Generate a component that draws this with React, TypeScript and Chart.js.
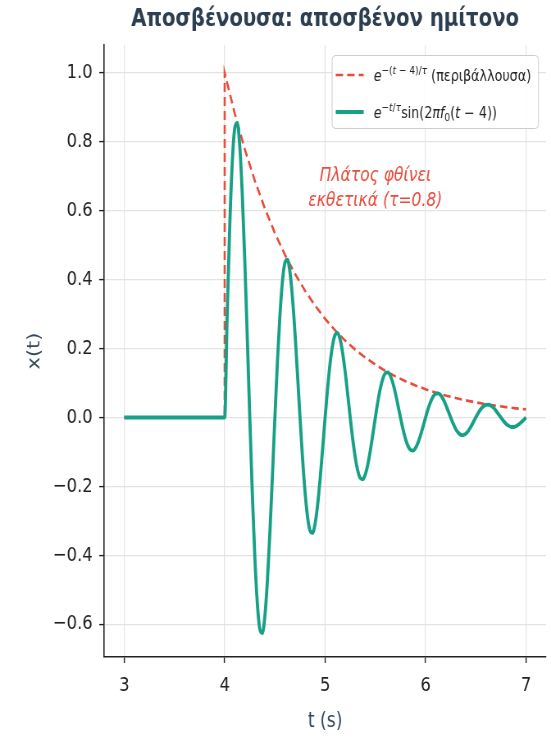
import React, { useEffect, useRef } from "react";
import { Chart, registerables } from "chart.js";

Chart.register(...registerables);

// ---------- text ----------
const chartTitle = "Αποσβένουσα: αποσβένον ημίτονο";
const xAxisLabel = "t (s)";
const yAxisLabel = "x(t)";
const annotationLines = ["Πλάτος φθίνει", "εκθετικά (τ=0.8)"];
const annotationX = 5.5;
const annotationY = 0.663;

// ---------- ticks ----------
const xTicks = [3, 4, 5, 6, 7];
const yTicks = [-0.6, -0.4, -0.2, 0.0, 0.2, 0.4, 0.6, 0.8, 1.0];
const xRange = [2.8, 7.2];
const yRange = [-0.695, 1.081];

// ---------- series: damped sine ----------
const sineTime = [
  3.0, 4.0,
  4.025, 4.05, 4.075, 4.1, 4.125, 4.15, 4.175, 4.2, 4.225, 4.25,
  4.275, 4.3, 4.325, 4.35, 4.375, 4.4, 4.425, 4.45, 4.475, 4.5,
  4.525, 4.55, 4.575, 4.6, 4.625, 4.65, 4.675, 4.7, 4.725, 4.75,
  4.775, 4.8, 4.825, 4.85, 4.875, 4.9, 4.925, 4.95, 4.975, 5.0,
  5.025, 5.05, 5.075, 5.1, 5.125, 5.15, 5.175, 5.2, 5.225, 5.25,
  5.275, 5.3, 5.325, 5.35, 5.375, 5.4, 5.425, 5.45, 5.475, 5.5,
  5.525, 5.55, 5.575, 5.6, 5.625, 5.65, 5.675, 5.7, 5.725, 5.75,
  5.775, 5.8, 5.825, 5.85, 5.875, 5.9, 5.925, 5.95, 5.975, 6.0,
  6.025, 6.05, 6.075, 6.1, 6.125, 6.15, 6.175, 6.2, 6.225, 6.25,
  6.275, 6.3, 6.325, 6.35, 6.375, 6.4, 6.425, 6.45, 6.475, 6.5,
  6.525, 6.55, 6.575, 6.6, 6.625, 6.65, 6.675, 6.7, 6.725, 6.75,
  6.775, 6.8, 6.825, 6.85, 6.875, 6.9, 6.925, 6.95, 6.975, 7.0,
];
const sineValues = [
  0, 0,
  0.2995, 0.5522, 0.7366, 0.8393, 0.8553, 0.7885, 0.6501, 0.4578, 0.2333, 0,
  -0.2191, -0.404, -0.5389, -0.6141, -0.6258, -0.5768, -0.4756, -0.3349, -0.1707, 0,
  0.1603, 0.2956, 0.3943, 0.4492, 0.4578, 0.422, 0.348, 0.245, 0.1249, 0,
  -0.1173, -0.2162, -0.2885, -0.3287, -0.335, -0.3087, -0.2546, -0.1793, -0.0914, 0,
  0.0858, 0.1582, 0.211, 0.2405, 0.245, 0.2259, 0.1863, 0.1312, 0.0668, 0,
  -0.0628, -0.1157, -0.1544, -0.1759, -0.1793, -0.1653, -0.1363, -0.0959, -0.0489, 0,
  0.0459, 0.0847, 0.113, 0.1287, 0.1312, 0.1209, 0.0997, 0.0702, 0.0358, 0,
  -0.0336, -0.062, -0.0826, -0.0942, -0.096, -0.0885, -0.0729, -0.0514, -0.0262, 0,
  0.0246, 0.0453, 0.0605, 0.0689, 0.0702, 0.0647, 0.0534, 0.0376, 0.0191, 0,
  -0.018, -0.0332, -0.0442, -0.0504, -0.0514, -0.0473, -0.039, -0.0275, -0.014, 0,
  0.0132, 0.0243, 0.0324, 0.0369, 0.0376, 0.0346, 0.0286, 0.0201, 0.0103, 0,
  -0.0096, -0.0178, -0.0237, -0.027, -0.0275, -0.0253, -0.0209, -0.0147, -0.0075, 0,
];

// ---------- series: envelope ----------
const envelopeTime = [
  3.0, 4.0, 4.0, 4.1, 4.2, 4.3, 4.4, 4.5, 4.6, 4.7, 4.8, 4.9, 5.0,
  5.1, 5.2, 5.3, 5.4, 5.5, 5.6, 5.7, 5.8, 5.9, 6.0,
  6.1, 6.2, 6.3, 6.4, 6.5, 6.6, 6.7, 6.8, 6.9, 7.0,
];
const envelopeValues = [
  0, 0, 1.0, 0.8825, 0.7788, 0.6873, 0.6065, 0.5353, 0.4724, 0.4169, 0.3679, 0.3247, 0.2865,
  0.2528, 0.2231, 0.1969, 0.1738, 0.1534, 0.1353, 0.1194, 0.1054, 0.093, 0.0821,
  0.0724, 0.0639, 0.0564, 0.0498, 0.0439, 0.0388, 0.0342, 0.0302, 0.0266, 0.0235,
];

// ---------- styles ----------
const RED = "#e74c3c";
const TEAL = "#16a085";
const TITLE_COLOR = "#2c3e50";
const LABEL_COLOR = "#34495e";
const TICK_COLOR = "#222222";
const GRID_COLOR = "#e3e3e3";
const FONT = '"DejaVu Sans", "Noto Sans", sans-serif';

// The reference picture is horizontally compressed; draw on a wider canvas and
// display it at the page width.
const PAGE_W = 551;
const PAGE_H = 738;
const SQUEEZE = 0.82;
const CANVAS_W = Math.round(PAGE_W / SQUEEZE);
const sx = (px: number) => px / SQUEEZE; // page px (horizontal) -> canvas px

type Run = { t: string; size: number; italic?: boolean; dy?: number };

const LG = 15.5;
const SUP = 11;
const legendRows: { kind: "dash" | "solid"; color: string; runs: Run[] }[] = [
  {
    kind: "dash",
    color: RED,
    runs: [
      { t: "e", size: LG, italic: true },
      { t: "\u2212(", size: SUP, dy: -7 },
      { t: "t", size: SUP, italic: true, dy: -7 },
      { t: " \u2212 4)/", size: SUP, dy: -7 },
      { t: "τ", size: SUP, italic: true, dy: -7 },
      { t: " (περιβάλλουσα)", size: LG },
    ],
  },
  {
    kind: "solid",
    color: TEAL,
    runs: [
      { t: "e", size: LG, italic: true },
      { t: "\u2212", size: SUP, dy: -7 },
      { t: "t", size: SUP, italic: true, dy: -7 },
      { t: "/", size: SUP, dy: -7 },
      { t: "τ", size: SUP, italic: true, dy: -7 },
      { t: "sin(2", size: LG },
      { t: "πf", size: LG, italic: true },
      { t: "0", size: SUP, dy: 3 },
      { t: "(", size: LG },
      { t: "t", size: LG, italic: true },
      { t: " \u2212 4))", size: LG },
    ],
  },
];

function drawRuns(ctx: CanvasRenderingContext2D, runs: Run[], x: number, y: number, color: string, measureOnly = false) {
  let cx = x;
  for (const r of runs) {
    ctx.font = `${r.italic ? "italic " : ""}${r.size}px ${FONT}`;
    if (!measureOnly) {
      ctx.fillStyle = color;
      ctx.textBaseline = "alphabetic";
      ctx.textAlign = "left";
      ctx.fillText(r.t, cx, y + (r.dy || 0));
    }
    cx += ctx.measureText(r.t).width;
  }
  return cx - x;
}

const overlayPlugin = {
  id: "overlay",
  afterDatasetsDraw(chart: any) {
    const ctx: CanvasRenderingContext2D = chart.ctx;
    const area = chart.chartArea;
    const xs = chart.scales.x;
    const ys = chart.scales.y;

    // title, centred over the plotting area
    ctx.save();
    ctx.font = `bold 24px ${FONT}`;
    ctx.fillStyle = TITLE_COLOR;
    ctx.textAlign = "center";
    ctx.textBaseline = "middle";
    ctx.fillText(chartTitle, (area.left + area.right) / 2, 20);
    ctx.restore();

    // annotation text
    ctx.save();
    ctx.font = `italic 19px ${FONT}`;
    ctx.fillStyle = RED;
    ctx.textAlign = "center";
    ctx.textBaseline = "middle";
    const ax = xs.getPixelForValue(annotationX);
    const ay = ys.getPixelForValue(annotationY);
    const lh = 25;
    annotationLines.forEach((line, i) => {
      ctx.fillText(line, ax, ay + (i - (annotationLines.length - 1) / 2) * lh);
    });
    ctx.restore();

    // legend
    ctx.save();
    const textWidths = legendRows.map((r) => drawRuns(ctx, r.runs, 0, 0, "", true));
    const sampleLen = sx(28);
    const padL = sx(4);
    const gap = sx(10);
    const padR = sx(7);
    const boxW = padL + sampleLen + gap + Math.max(...textWidths) + padR;
    const boxH = 73;
    const boxRight = area.right - sx(8);
    const boxTop = area.top + 10;
    const boxLeft = boxRight - boxW;
    ctx.beginPath();
    if ((ctx as any).roundRect) (ctx as any).roundRect(boxLeft + 0.5, boxTop + 0.5, boxW, boxH, 4);
    else ctx.rect(boxLeft + 0.5, boxTop + 0.5, boxW, boxH);
    ctx.fillStyle = "rgba(255,255,255,0.85)";
    ctx.fill();
    ctx.strokeStyle = "#cccccc";
    ctx.lineWidth = 1;
    ctx.stroke();
    const rowY = [boxTop + 20, boxTop + 57];
    legendRows.forEach((row, i) => {
      const cy = rowY[i];
      ctx.beginPath();
      ctx.strokeStyle = row.color;
      ctx.lineWidth = row.kind === "dash" ? 2.6 : 3.8;
      ctx.setLineDash(row.kind === "dash" ? [9, 5] : []);
      ctx.moveTo(boxLeft + padL, cy);
      ctx.lineTo(boxLeft + padL + sampleLen, cy);
      ctx.stroke();
      ctx.setLineDash([]);
      drawRuns(ctx, row.runs, boxLeft + padL + sampleLen + gap, cy + 5.5, "#222222");
    });
    ctx.restore();
  },
};

export default function App() {
  const ref = useRef<HTMLCanvasElement | null>(null);

  useEffect(() => {
    document.body.style.margin = "0";
    const canvas = ref.current;
    if (!canvas) return;

    const envelope = envelopeTime.map((t, i) => ({ x: t, y: envelopeValues[i] }));
    const signal = sineTime.map((t, i) => ({ x: t, y: sineValues[i] }));

    const tickFont = { family: FONT, size: 20 };
    const fmtY = (v: number) => {
      const s = Math.abs(v) < 1e-9 ? "0.0" : v.toFixed(1);
      return s.replace("-", "\u2212");
    };

    const chart = new Chart(canvas, {
      type: "scatter",
      data: {
        datasets: [
          {
            label: "envelope",
            data: envelope,
            showLine: true,
            borderColor: RED,
            backgroundColor: RED,
            borderWidth: 2.6,
            borderDash: [9, 5],
            pointRadius: 0,
            tension: 0,
            fill: false,
            order: 2,
          },
          {
            label: "signal",
            data: signal,
            showLine: true,
            borderColor: TEAL,
            backgroundColor: TEAL,
            borderWidth: 3.8,
            pointRadius: 0,
            cubicInterpolationMode: "monotone",
            fill: false,
            order: 1,
          },
        ],
      },
      options: {
        animation: false,
        responsive: false,
        devicePixelRatio: 1,
        layout: { padding: { left: 0, right: Math.round(CANVAS_W - sx(546)), top: 45, bottom: 0 } },
        plugins: {
          legend: { display: false },
          tooltip: { enabled: false },
          title: { display: false },
        },
        scales: {
          x: {
            type: "linear",
            min: xRange[0],
            max: xRange[1],
            afterBuildTicks: (axis: any) => {
              axis.ticks = xTicks.map((v) => ({ value: v }));
            },
            afterFit: (axis: any) => {
              axis.height = 81;
            },
            grid: { color: GRID_COLOR, lineWidth: 1.2, tickLength: 6, tickColor: TICK_COLOR, tickWidth: 1.4 },
            border: { color: TICK_COLOR, width: 1.4 },
            ticks: {
              font: tickFont,
              color: TICK_COLOR,
              padding: 11,
              maxRotation: 0,
              callback: (v: any) => String(v),
            },
            title: {
              display: true,
              text: xAxisLabel,
              color: LABEL_COLOR,
              font: { family: FONT, size: 21 },
              padding: { top: 0, bottom: 4 },
            },
          },
          y: {
            type: "linear",
            min: yRange[0],
            max: yRange[1],
            afterBuildTicks: (axis: any) => {
              axis.ticks = yTicks.map((v) => ({ value: v }));
            },
            afterFit: (axis: any) => {
              axis.width = Math.round(sx(104));
            },
            grid: { color: GRID_COLOR, lineWidth: 1.2, tickLength: 6, tickColor: TICK_COLOR, tickWidth: 1.4 },
            border: { color: TICK_COLOR, width: 1.6 },
            ticks: {
              font: tickFont,
              color: TICK_COLOR,
              padding: 8,
              callback: (v: any) => fmtY(Number(v)),
            },
            title: {
              display: true,
              text: yAxisLabel,
              color: LABEL_COLOR,
              font: { family: FONT, size: 21 },
              padding: { top: 30, bottom: 0 },
            },
          },
        },
      },
      plugins: [overlayPlugin],
    } as any);

    return () => chart.destroy();
  }, []);

  return (
    <div style={{ position: "absolute", left: 0, top: 0, width: PAGE_W, height: PAGE_H, overflow: "hidden", background: "#ffffff" }}>
      <canvas
        ref={ref}
        width={CANVAS_W}
        height={PAGE_H}
        style={{ width: PAGE_W, height: PAGE_H, display: "block" }}
      />
    </div>
  );
}
